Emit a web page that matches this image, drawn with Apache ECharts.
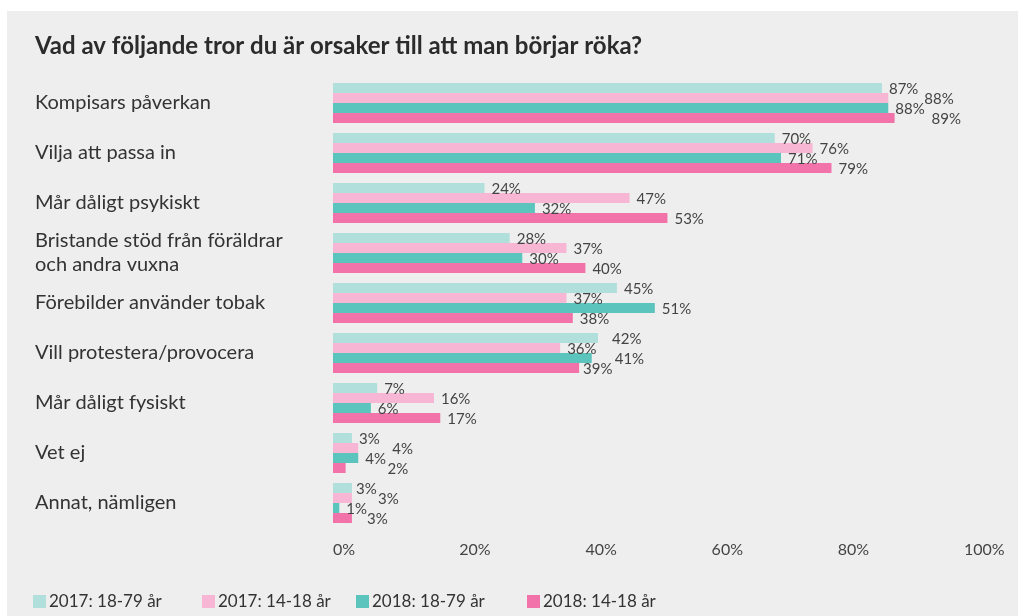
<!DOCTYPE html>
<html>
<head>
<meta charset="utf-8">
<script src="https://cdn.jsdelivr.net/npm/echarts@6/dist/echarts.min.js"></script>
<style>
html,body{margin:0;padding:0;background:#ffffff;}
#chart{width:1018px;height:616px;}
</style>
</head>
<body>
<div id="chart"></div>
<script>
const categories = [
  'Kompisars påverkan',
  'Vilja att passa in',
  'Mår dåligt psykiskt',
  'Bristande stöd från föräldrar\noch andra vuxna',
  'Förebilder använder tobak',
  'Vill protestera/provocera',
  'Mår dåligt fysiskt',
  'Vet ej',
  'Annat, nämligen'
];
const seriesNames = ['2017: 18-79 år', '2017: 14-18 år', '2018: 18-79 år', '2018: 14-18 år'];
const s2017_18_79 = [87, 70, 24, 28, 45, 42, 7, 3, 3];
const s2017_14_18 = [88, 76, 47, 37, 37, 36, 16, 4, 3];
const s2018_18_79 = [88, 71, 32, 30, 51, 41, 6, 4, 1];
const s2018_14_18 = [89, 79, 53, 40, 38, 39, 17, 2, 3];
const xTicks = [0, 20, 40, 60, 80, 100];

const colors = ['#b1dfdb', '#f6b6d4', '#5bc4bd', '#f173a9'];
// horizontal nudges for labels that the original shifted to avoid overlap: [series][category]
const labelNudge = {
  '1-0': 29, '3-0': 30,
  '0-5': 7, '2-5': 16, '3-5': -3,
  '1-7': 27, '3-7': 35,
  '0-8': -3, '1-8': 19, '3-8': 8
};

const allSeries = [s2017_18_79, s2017_14_18, s2018_18_79, s2018_14_18];
const FONT = 'Lato, "Open Sans", sans-serif';

const series = allSeries.map((vals, si) => ({
  name: seriesNames[si],
  type: 'bar',
  barWidth: 10,
  barGap: '0%',
  itemStyle: { color: colors[si] },
  label: {
    show: true,
    position: 'right',
    distance: 7,
    formatter: '{c}%',
    color: '#444',
    fontFamily: FONT,
    fontSize: 15
  },
  data: vals.map((v, ci) => {
    const dx = labelNudge[si + '-' + ci] || 0;
    return { value: v, label: { offset: [dx, 1] } };
  })
}));

const legendLefts = [33, 202, 356, 527];
const legends = seriesNames.map((n, i) => ({
  data: [n],
  left: legendLefts[i],
  top: 593,
  padding: 0,
  icon: 'rect',
  itemWidth: 13,
  itemHeight: 13,
  itemGap: 5,
  selectedMode: false,
  textStyle: { color: '#333', fontFamily: FONT, fontSize: 17, padding: [0, 0, 0, -2] }
}));

const chart = echarts.init(document.getElementById('chart'), null, { renderer: 'canvas' });
chart.setOption({
  backgroundColor: '#ffffff',
  animation: false,
  graphic: [{
    type: 'rect',
    z: -10,
    shape: { x: 7, y: 11, width: 1011, height: 605 },
    style: { fill: '#eeeeee' }
  }],
  title: {
    text: 'Vad av följande tror du är orsaker till att man börjar röka?',
    left: 30,
    top: 29,
    textStyle: { fontFamily: FONT, fontWeight: 'bold', fontSize: 24, color: '#2b2b2b' }
  },
  legend: legends,
  grid: { left: 333, right: 1018 - 964, top: 78, bottom: 616 - 528, containLabel: false },
  xAxis: {
    type: 'value',
    min: 0,
    max: 100,
    interval: 20,
    axisLine: { show: false },
    axisTick: { show: false },
    splitLine: { show: false },
    axisLabel: {
      formatter: '{value}%',
      align: 'left',
      margin: 14,
      color: '#444',
      fontFamily: FONT,
      fontSize: 16
    }
  },
  yAxis: {
    type: 'category',
    data: categories,
    inverse: true,
    axisLine: { show: false },
    axisTick: { show: false },
    splitLine: { show: false },
    axisLabel: {
      align: 'left',
      margin: 298,
      color: '#333',
      fontFamily: FONT,
      fontSize: 20,
      lineHeight: 24,
      padding: [8, 0, 0, 0]
    }
  },
  series: series
});
</script>
</body>
</html>
